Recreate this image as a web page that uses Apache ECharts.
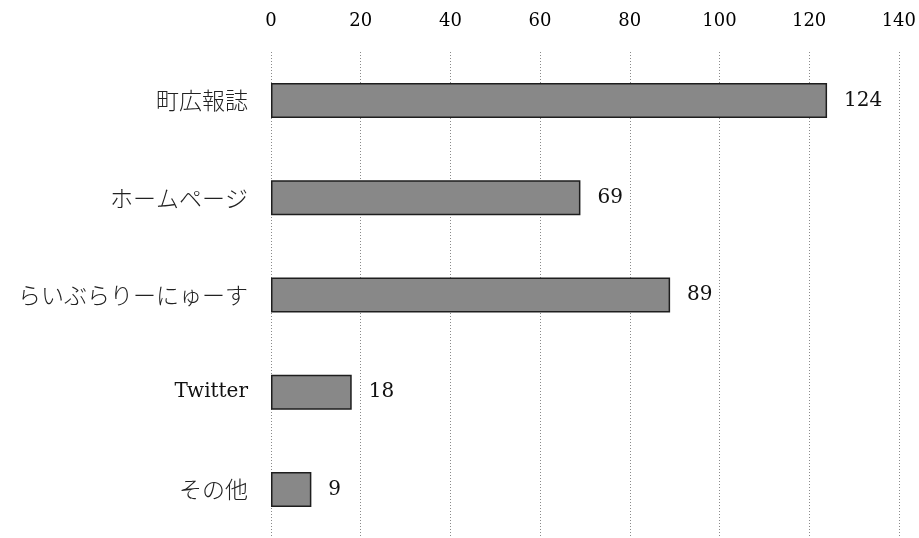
<!DOCTYPE html>
<html><head><meta charset="utf-8">
<script src="https://cdn.jsdelivr.net/npm/echarts@6/dist/echarts.min.js"></script>
<style>html,body{margin:0;padding:0;background:#fff}#c{width:919px;height:538px}</style>
</head><body><div id="c"></div>
<script>
const categories = ['町広報誌','ホームページ','らいぶらりーにゅーす','Twitter','その他'];
const values = [124, 69, 89, 18, 9];
const xTicks = [0,20,40,60,80,100,120,140];
const serif = '"DejaVu Serif","Liberation Serif",serif';
const cjk = '"Noto Sans CJK JP","Noto Sans CJK SC",sans-serif';
const chart = echarts.init(document.getElementById('c'));
chart.setOption({
  animation:false,
  backgroundColor:'#fff',
  grid:{left:271,right:20,top:52,height:491,containLabel:false},
  xAxis:{type:'value',position:'top',min:xTicks[0],max:xTicks[xTicks.length-1],interval:20,
    axisLine:{show:false},axisTick:{show:false},
    axisLabel:{color:'#000',fontSize:18,fontFamily:serif,margin:22},
    splitLine:{show:true,lineStyle:{type:[1,2],color:'#8a8a8a',width:1}}},
  yAxis:{type:'category',data:categories,inverse:true,
    axisLine:{show:false},axisTick:{show:false},
    axisLabel:{margin:23,
      formatter:function(v){return /^[\x00-\x7F]+$/.test(v)?'{en|'+v+'}':'{ja|'+v+'}';},
      rich:{
        en:{color:'#111',fontSize:20,fontFamily:serif},
        ja:{color:'#222',fontSize:23,fontFamily:cjk,fontWeight:300}
      }}},
  series:[{type:'bar',data:values,barWidth:35,
    itemStyle:{color:'#888888',borderColor:'#1e1e1e',borderWidth:1.5},
    label:{show:true,position:'right',distance:17,color:'#111',fontSize:20,fontFamily:serif}}]
});
</script></body></html>
